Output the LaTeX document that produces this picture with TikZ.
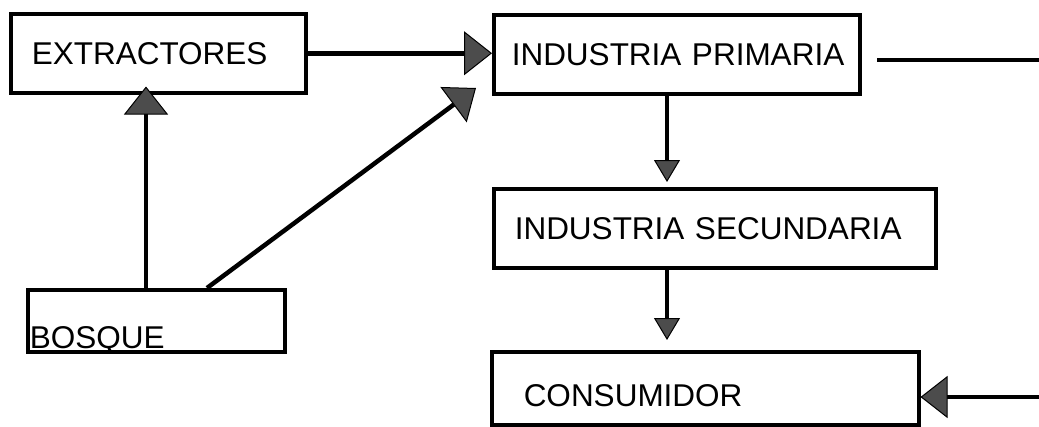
\documentclass[tikz,border=0pt]{standalone}
\usepackage{fontspec}
\setmainfont{Liberation Sans}
\usetikzlibrary{arrows.meta}
\begin{document}
\begin{tikzpicture}[x=1pt,y=-1pt,
  box/.style={draw, line width=3.5pt, anchor=north west, align=left,
    font=\fontsize{31.5}{36}\selectfont, inner ysep=0pt},
  bigarrow/.style={line width=4.5pt,
    -{Triangle[length=28pt,width=44pt,line width=1pt,fill=black!70]}},
  smallarrow/.style={line width=3.5pt,
    -{Triangle[length=22pt,width=26pt,line width=1pt,fill=black!70]}},
  plainline/.style={line width=3.5pt}]
\useasboundingbox (0,0) rectangle (1039,426);

\node[box, minimum width=295pt, minimum height=79pt, text width=253pt, inner xsep=21pt] (ext) at (9,12) {\mbox{EXTRACTORES}};
\node[box, minimum width=366pt, minimum height=79pt, text width=330pt, inner xsep=18pt] (pri) at (492,13) {\mbox{INDUSTRIA PRIMARIA}};
\node[box, minimum width=442pt, minimum height=79pt, text width=400pt, inner xsep=21pt] (sec) at (492,187) {\mbox{INDUSTRIA SECUNDARIA}};
\node[box, minimum width=427pt, minimum height=73pt, text width=363pt, inner xsep=32pt, text height=37pt, text depth=0pt] (con) at (490,350) {\mbox{CONSUMIDOR}};
\node[box, minimum width=257pt, minimum height=62pt, text width=253pt, inner xsep=2pt, text height=56pt, text depth=0pt] (bos) at (26,288) {\mbox{BOSQUE}};

\coordinate (b1) at (146,288);
\coordinate (b2) at (207,288);
\coordinate (d1) at (476,88);
\coordinate (vx) at (667,0);
\coordinate (r1) at (877,60);
\coordinate (r2) at (1039,60);
\coordinate (r3) at (1039,397);

\draw[bigarrow] (ext.east) -- (ext.east -| pri.west);
\draw[bigarrow, shorten >=-8pt] (b1) -- (b1 |- ext.south);
\draw[bigarrow] (b2) -- (d1);
\draw[smallarrow, shorten >=5pt] (pri.south -| vx) -- (sec.north -| vx);
\draw[smallarrow, shorten >=10pt] (sec.south -| vx) -- (con.north -| vx);
\draw[plainline] (r1) -- (r2);
\draw[bigarrow, -{Triangle[length=27pt,width=42pt,line width=1pt,fill=black!70]}] (r3) -- (r3 -| con.east);
\end{tikzpicture}
\end{document}
